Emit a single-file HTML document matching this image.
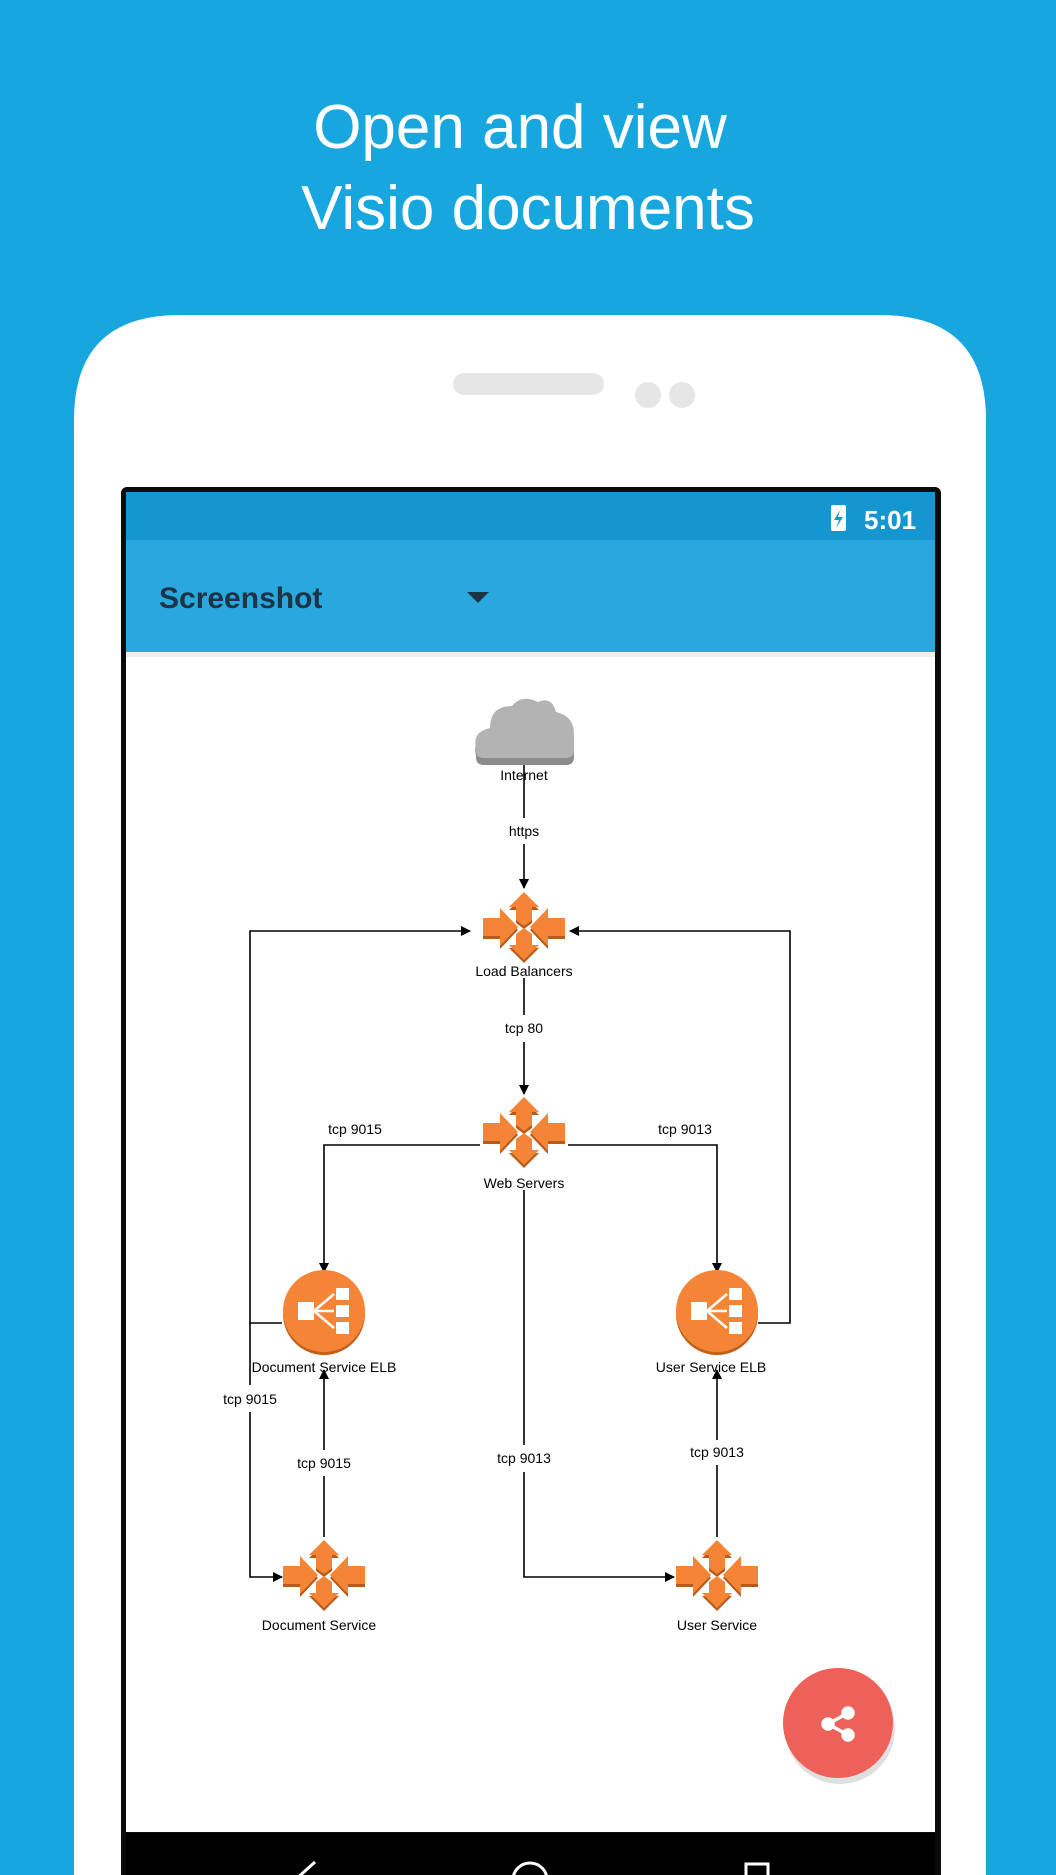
<!DOCTYPE html>
<html><head><meta charset="utf-8"><style>
html,body{margin:0;padding:0;background:#17a6de;}
svg{display:block}
</style></head><body>
<svg width="1056" height="1875" viewBox="0 0 1056 1875" xmlns="http://www.w3.org/2000/svg" font-family="Liberation Sans, sans-serif">
<defs>
<g id="arrs">
  <polygon points="0,-35 15,-20 8,-20 8,-7 0,-1 -8,-7 -8,-20 -15,-20"/>
  <polygon points="0,33 15,18 8,18 8,7 0,1 -8,7 -8,18 -15,18"/>
  <polygon points="-41,-9 -24,-9 -24,-19 -6,0 -24,19 -24,9 -41,9"/>
  <polygon points="41,-9 24,-9 24,-19 6,0 24,19 24,9 41,9"/>
</g>
<g id="arr">
 <use href="#arrs" fill="#b85a1a" transform="translate(0,3)"/>
 <use href="#arrs" fill="#f58536"/>
</g>
<g id="elb">
 <circle cx="0" cy="3" r="41" fill="#c0601c"/>
 <circle cx="0" cy="0" r="41" fill="#f58536"/>
 <rect x="-26" y="-9" width="16" height="18" fill="#fff"/>
 <rect x="12" y="-23" width="13" height="12" fill="#fff"/>
 <rect x="12" y="-6" width="13" height="12" fill="#fff"/>
 <rect x="12" y="11" width="13" height="12" fill="#fff"/>
 <path d="M-10,0 L10,-17 M-10,0 L10,0 M-10,0 L10,17" stroke="#fff" stroke-width="2.5"/>
</g>
<marker id="ah" markerWidth="10" markerHeight="10" refX="9" refY="5" orient="auto" markerUnits="userSpaceOnUse">
 <path d="M0,0 L10,5 L0,10 z" fill="#000"/>
</marker>
</defs>

<text x="520" y="148" text-anchor="middle" font-size="62" fill="#fff">Open and view</text>
<text x="528" y="229" text-anchor="middle" font-size="62" fill="#fff">Visio documents</text>

<path d="M74,1875 L74,420 Q74,315 180,315 L880,315 Q986,315 986,420 L986,1875 Z" fill="#fff"/>
<rect x="453" y="373" width="151" height="22" rx="11" fill="#e6e6e6"/>
<circle cx="648" cy="395" r="13" fill="#e6e6e6"/>
<circle cx="682" cy="395" r="13" fill="#e6e6e6"/>

<rect x="121" y="487" width="820" height="1400" rx="6" fill="#0b0b0b"/>
<rect x="126" y="492" width="809" height="1340" fill="#fff"/>
<rect x="126" y="492" width="809" height="48" fill="#1596d1"/>
<rect x="126" y="540" width="809" height="112" fill="#29a8e0"/>
<rect x="126" y="652" width="809" height="5" fill="#e4e4e4" opacity="0.6"/>
<rect x="831" y="505" width="15" height="26" rx="2" fill="#fff"/>
<path d="M840,510 L834,520 L839,520 L836,528 L843,517 L838,517 Z" fill="#1596d1"/>
<text x="864" y="529" font-size="26" font-weight="bold" fill="#fff">5:01</text>
<text x="159" y="608" font-size="30" font-weight="bold" fill="#1e3444">Screenshot</text>
<polygon points="467,592 489,592 478,603" fill="#1e3444"/>

<g stroke="#000" stroke-width="1.6" fill="none">
 <line x1="524" y1="755" x2="524" y2="818"/>
 <line x1="524" y1="844" x2="524" y2="888" marker-end="url(#ah)"/>
 <line x1="524" y1="978" x2="524" y2="1015"/>
 <line x1="524" y1="1042" x2="524" y2="1094" marker-end="url(#ah)"/>
 <path d="M282,1323 L250,1323 L250,931 L470,931" marker-end="url(#ah)"/>
 <path d="M758,1323 L790,1323 L790,931 L570,931" marker-end="url(#ah)"/>
 <path d="M480,1145 L324,1145 L324,1272" marker-end="url(#ah)"/>
 <path d="M568,1145 L717,1145 L717,1272" marker-end="url(#ah)"/>
 <path d="M250,1323 L250,1385"/>
 <path d="M250,1412 L250,1577 L282,1577" marker-end="url(#ah)"/>
 <line x1="324" y1="1537" x2="324" y2="1476"/>
 <line x1="324" y1="1450" x2="324" y2="1370" marker-end="url(#ah)"/>
 <path d="M524,1190 L524,1445"/>
 <path d="M524,1472 L524,1577 L674,1577" marker-end="url(#ah)"/>
 <line x1="717" y1="1537" x2="717" y2="1465"/>
 <line x1="717" y1="1440" x2="717" y2="1370" marker-end="url(#ah)"/>
</g>

<g>
 <path d="M476,755 Q472,738 490,734 Q490,712 512,712 Q522,700 538,708 Q552,702 556,718 Q574,722 574,740 L574,757 Q574,765 566,765 L484,765 Q476,765 476,757 Z" fill="#8c8c8c"/>
 <path d="M476,748 Q472,732 490,728 Q490,706 512,706 Q522,694 538,702 Q552,696 556,712 Q574,716 574,734 L574,750 Q574,758 566,758 L484,758 Q476,758 476,750 Z" fill="#b3b3b3"/>
</g>

<use href="#arr" x="524" y="927"/>
<use href="#arr" x="524" y="1132"/>
<use href="#arr" x="324" y="1575"/>
<use href="#arr" x="717" y="1575"/>
<use href="#elb" x="324" y="1311"/>
<use href="#elb" x="717" y="1311"/>

<g font-size="14" fill="#000" text-anchor="middle">
 <text x="524" y="780">Internet</text>
 <text x="524" y="836">https</text>
 <text x="524" y="976">Load Balancers</text>
 <text x="524" y="1033">tcp 80</text>
 <text x="355" y="1134">tcp 9015</text>
 <text x="685" y="1134">tcp 9013</text>
 <text x="524" y="1188">Web Servers</text>
 <text x="324" y="1372">Document Service ELB</text>
 <text x="711" y="1372">User Service ELB</text>
 <text x="250" y="1404">tcp 9015</text>
 <text x="324" y="1468">tcp 9015</text>
 <text x="524" y="1463">tcp 9013</text>
 <text x="717" y="1457">tcp 9013</text>
 <text x="319" y="1630">Document Service</text>
 <text x="717" y="1630">User Service</text>
</g>

<circle cx="840" cy="1729" r="55" fill="#000" opacity="0.12"/>
<circle cx="838" cy="1723" r="55" fill="#ee6158"/>
<g stroke="#fff" stroke-width="3.5" fill="#fff">
 <line x1="848" y1="1713" x2="828" y2="1724"/>
 <line x1="828" y1="1724" x2="848" y2="1735"/>
 <circle cx="848" cy="1713" r="5"/>
 <circle cx="828" cy="1724" r="5"/>
 <circle cx="848" cy="1735" r="5"/>
</g>

<rect x="126" y="1833" width="809" height="42" fill="#000"/>
<g stroke="#fff" stroke-width="3" fill="none">
 <path d="M315,1862 L295,1880 L315,1898"/>
 <circle cx="530" cy="1880" r="17"/>
 <rect x="746" y="1864" width="22" height="22"/>
</g>
</svg>
</body></html>
